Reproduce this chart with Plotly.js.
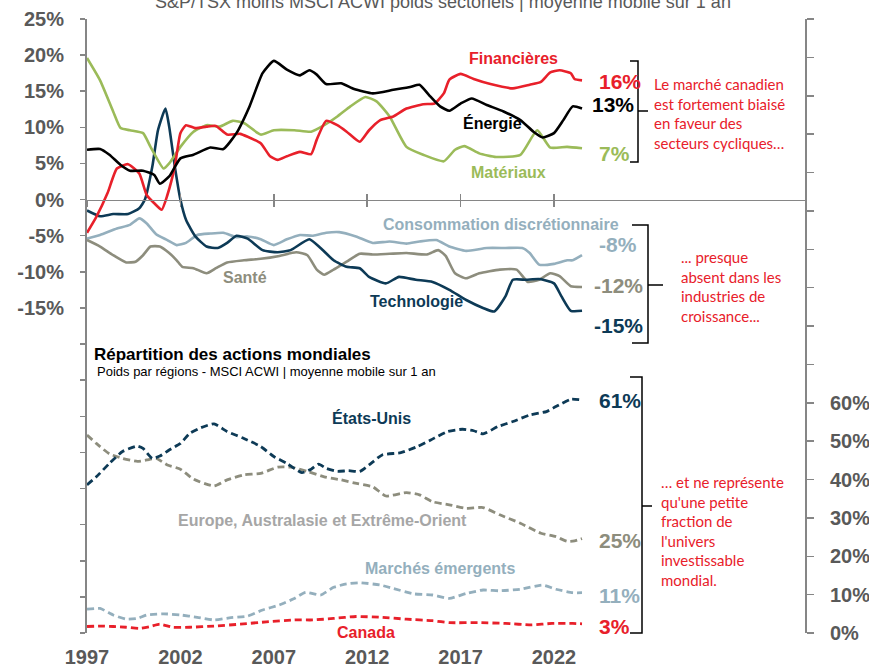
<!DOCTYPE html>
<html><head><meta charset="utf-8">
<script src="https://cdn.plot.ly/plotly-3.0.1.min.js"></script>
<style>html,body{margin:0;padding:0;background:#fff;}#chart{width:869px;height:669px;}</style>
</head><body><div id="chart"></div>
<script>
// ---------- DATA (upper panel: S&P/TSX minus MSCI ACWI sector weights, %) ----------
const finYears = [1997.0,1997.5,1998.1,1998.6,1999.2,1999.8,2000.2,2000.6,2001.0,2001.3,2001.7,2002.0,2002.3,2002.8,2003.4,2003.9,2004.5,2005.2,2005.6,2006.3,2006.8,2007.2,2007.7,2008.4,2009.0,2009.3,2009.8,2010.4,2010.9,2011.6,2012.1,2012.7,2013.4,2014.1,2015.0,2015.6,2016.1,2016.4,2017.0,2017.7,2018.6,2019.8,2020.7,2021.3,2021.8,2022.3,2022.9,2023.1,2023.5];
const finVals  = [-4.6,-2.4,0.9,4.3,4.9,3.6,0.6,-0.5,-1.4,0.6,4.6,9.2,10.3,9.9,10.1,10.2,9.0,9.1,8.7,7.8,6.0,5.5,6.0,6.6,6.3,8.3,10.9,10.3,9.4,8.0,9.6,11.0,11.5,12.6,13.2,13.3,14.7,16.6,17.4,16.7,16.0,15.4,15.9,16.3,17.6,17.9,17.5,16.7,16.5];

const nrgYears = [1997.0,1997.7,1998.2,1998.8,1999.3,2000.0,2000.6,2000.9,2001.4,2002.0,2002.7,2003.6,2004.3,2005.0,2005.7,2006.4,2007.0,2007.7,2008.4,2008.9,2009.3,2009.8,2010.6,2011.3,2012.3,2013.4,2014.3,2014.8,2015.3,2015.9,2016.4,2017.0,2017.6,2018.4,2019.3,2020.2,2020.9,2021.4,2022.0,2022.5,2023.0,2023.5];
const nrgVals  = [6.9,7.0,6.2,4.8,4.0,4.0,3.4,2.2,3.2,5.7,6.2,7.2,7.0,9.2,12.9,17.5,19.2,18.0,17.2,17.9,17.3,16.0,16.1,15.3,14.7,15.2,15.6,15.9,14.5,12.9,12.3,13.3,14.0,13.1,12.2,11.0,9.4,8.6,9.2,11.0,12.9,12.6];

const matYears = [1997.0,1997.7,1998.4,1998.8,1999.3,2000.0,2000.4,2001.1,2001.4,2002.0,2002.7,2003.4,2004.1,2004.8,2005.4,2006.3,2007.0,2008.1,2009.0,2009.7,2010.4,2011.1,2011.9,2012.5,2013.2,2014.1,2015.0,2016.1,2016.7,2017.2,2018.0,2018.9,2020.2,2021.1,2021.8,2022.7,2023.5];
const matVals  = [19.6,16.5,12.2,9.9,9.6,9.2,7.3,4.3,5.0,7.3,9.4,10.3,10.1,10.9,10.6,9.0,9.6,9.6,9.4,10.3,11.5,12.9,14.2,13.6,11.5,7.3,6.2,5.3,6.9,7.4,6.4,5.9,6.2,9.6,7.2,7.3,7.1];

const conYears = [1997.0,1997.7,1998.6,1999.3,1999.8,2000.2,2000.7,2001.3,2001.8,2002.3,2002.9,2003.6,2004.3,2005.0,2005.6,2006.3,2007.0,2007.7,2008.4,2009.1,2009.8,2010.5,2011.4,2012.3,2013.2,2014.1,2014.8,2015.7,2016.4,2017.3,2018.4,2019.4,2020.3,2020.7,2021.2,2022.0,2022.7,2023.0,2023.5];
const conVals  = [-5.4,-4.9,-4.0,-3.5,-2.6,-3.3,-4.8,-5.6,-6.3,-6.0,-4.9,-4.7,-4.6,-5.2,-5.1,-5.5,-6.3,-5.5,-4.9,-5.0,-4.6,-4.5,-5.1,-6.0,-5.8,-6.1,-5.8,-5.6,-6.5,-7.1,-6.7,-6.7,-6.7,-7.4,-9.0,-8.9,-8.4,-8.4,-7.7];

const hltYears = [1997.0,1997.7,1998.4,1999.1,1999.6,2000.0,2000.4,2000.9,2001.4,2001.8,2002.1,2002.7,2003.4,2003.9,2004.5,2005.4,2006.3,2007.3,2008.2,2008.8,2009.3,2009.7,2010.2,2010.9,2011.6,2012.3,2013.2,2014.1,2015.2,2015.8,2016.2,2016.7,2017.3,2018.0,2019.1,2020.0,2020.6,2021.2,2021.8,2022.3,2022.9,2023.5];
const hltVals  = [-5.6,-6.5,-7.7,-8.7,-8.6,-7.7,-6.5,-6.5,-7.4,-8.4,-9.3,-9.5,-10.2,-9.5,-8.7,-8.4,-8.2,-7.8,-7.3,-7.7,-9.7,-10.4,-9.7,-8.6,-7.5,-7.6,-7.5,-7.4,-7.6,-7.0,-7.8,-10.2,-10.9,-10.2,-9.7,-9.7,-11.4,-11.1,-10.2,-10.6,-12.0,-12.1];

const tecYears = [1997.0,1997.7,1998.4,1999.2,1999.8,2000.1,2000.5,2000.8,2001.2,2001.4,2001.7,2002.0,2002.3,2002.8,2003.4,2004.0,2004.5,2005.0,2005.6,2006.4,2007.2,2007.9,2008.9,2009.5,2010.2,2010.9,2011.6,2012.1,2013.0,2013.7,2014.6,2015.5,2016.4,2017.3,2018.2,2018.8,2019.4,2019.8,2020.5,2021.2,2022.0,2022.4,2022.9,2023.5];
const tecVals  = [-1.5,-2.3,-2.0,-2.0,-1.2,0.0,4.6,9.6,12.6,10.1,4.6,0.0,-2.8,-5.1,-6.5,-6.7,-6.0,-5.0,-5.4,-7.0,-7.3,-7.0,-5.5,-6.7,-8.4,-9.3,-9.5,-10.7,-11.6,-10.7,-11.1,-11.4,-12.5,-13.9,-15.0,-15.5,-13.4,-11.1,-11.1,-11.0,-11.6,-13.4,-15.4,-15.4];

// ---------- DATA (lower panel: MSCI ACWI regional weights, %) ----------
const usYears = [1997.0,1997.5,1998.2,1998.9,1999.7,2000.0,2000.5,2000.9,2001.4,2002.0,2002.5,2003.1,2003.8,2004.5,2005.4,2006.3,2007.0,2007.7,2008.5,2009.0,2009.4,2009.8,2010.4,2011.0,2011.6,2012.1,2012.8,2013.8,2014.7,2015.4,2016.3,2017.1,2017.7,2018.2,2019.0,2019.8,2020.7,2021.6,2022.1,2022.9,2023.5];
const usVals  = [38.6,40.7,44.2,47.3,48.7,48.1,45.5,46.1,47.7,49.4,52.0,53.5,54.5,52.5,50.7,48.6,46.0,44.2,41.8,42.7,44.0,42.9,42.1,42.3,42.1,43.8,46.4,47.0,48.6,50.3,52.5,53.1,52.7,51.9,53.8,55.1,56.8,57.7,59.0,60.9,60.7];

const eafeYears = [1997.0,1997.5,1998.2,1998.9,1999.7,2000.2,2000.7,2001.3,2002.0,2002.7,2003.8,2004.5,2005.4,2006.3,2007.2,2007.9,2008.8,2009.7,2010.6,2011.5,2012.3,2013.0,2014.1,2014.8,2015.5,2016.4,2017.3,2018.2,2019.1,2020.2,2021.3,2022.1,2022.7,2023.1,2023.5];
const eafeVals  = [51.6,49.4,46.7,45.5,44.7,45.1,45.5,43.8,42.7,40.1,38.3,39.9,41.2,41.6,43.2,43.2,42.1,40.7,39.9,38.9,38.1,35.7,36.6,36.0,34.2,33.4,32.5,32.7,30.8,28.6,26.0,25.1,23.9,24.0,24.6];

const emYears = [1997.0,1997.7,1998.4,1999.1,1999.7,2000.2,2001.1,2002.0,2002.9,2003.8,2004.7,2005.6,2006.4,2007.3,2008.1,2008.7,2009.5,2010.2,2010.9,2011.6,2012.7,2013.4,2014.5,2015.5,2016.4,2017.3,2018.2,2019.1,2020.2,2021.4,2022.1,2023.0,2023.5];
const emVals  = [6.2,6.4,4.7,3.6,3.8,4.7,5.0,4.7,4.1,3.4,4.0,4.4,6.0,7.3,9.0,10.6,9.9,11.9,12.8,13.1,12.5,11.6,10.2,9.9,9.0,10.3,11.2,11.0,11.4,12.5,11.4,10.5,10.5];

const caYears = [1997.0,1997.7,1998.4,1999.1,1999.8,2000.4,2000.9,2001.6,2002.5,2003.8,2005.2,2006.6,2008.1,2009.1,2010.2,2011.4,2012.7,2014.1,2015.5,2016.4,2018.0,2019.4,2020.8,2021.9,2023.0,2023.5];
const caVals  = [1.7,1.8,1.7,1.5,1.2,1.7,2.3,1.5,1.5,1.8,2.3,2.9,3.4,3.4,3.8,4.3,4.1,3.6,3.2,2.7,2.7,2.5,2.1,2.5,2.5,2.4];

// ---------- Tick labels ----------
const xTickVals = [1997,2002,2007,2012,2017,2022];
const xTickText = ['1997','2002','2007','2012','2017','2022'];
const leftTickVals = [-60,-55,-50,-45,-40,-35,-30,-25,-20,-15,-10,-5,0,5,10,15,20,25];
const leftTickText = ['','','','','','','','','','-15%','-10%','-5%','0%','5%','10%','15%','20%','25%'];
const rightTickVals = [0,10,20,30,40,50,60,70,80,90,100,110,120,130,140,150,160];
const rightTickText = ['0%','10%','20%','30%','40%','50%','60%','','','','','','','','','',''];

// ---------- Styling ----------
const RED='#e8202a', BLACK='#000000', GREEN='#9bbb59', NAVY='#0d3a56', LBLUE='#94afbd', GRAYB='#8d8d7d', AXC='#595959', LINEC='#868686';
const FONT='Liberation Sans, Arial, sans-serif';
const L=87, R=64, T=19, B=36, W=869, H=669;
const PW=W-L-R, PH=H-T-B;
const X = p => (p - L)/PW;
const Y = p => (H - B - p)/PH;

function solid(x,y,c){return {x:x,y:y,type:'scatter',mode:'lines',xaxis:'x2',yaxis:'y',line:{color:c,width:2.6,shape:'spline',smoothing:0.5},hoverinfo:'skip',showlegend:false};}
function dashed(x,y,c){return {x:x,y:y,type:'scatter',mode:'lines',xaxis:'x',yaxis:'y2',line:{color:c,width:2.8,dash:'7px,4px',shape:'spline',smoothing:0.5},hoverinfo:'skip',showlegend:false};}

const traces = [
  solid(conYears,conVals,LBLUE), solid(hltYears,hltVals,GRAYB), solid(tecYears,tecVals,NAVY),
  solid(matYears,matVals,GREEN), solid(finYears,finVals,RED), solid(nrgYears,nrgVals,BLACK),
  dashed(eafeYears,eafeVals,GRAYB), dashed(emYears,emVals,LBLUE), dashed(caYears,caVals,RED), dashed(usYears,usVals,NAVY),
  {x:[],y:[],type:'scatter',mode:'lines',xaxis:'x3',yaxis:'y',hoverinfo:'skip',showlegend:false}
];

const zeroPos = 60/85;
const xr = [1997, 1997 + PW/18.68];

const layout = {
  width:W, height:H, margin:{l:L,r:R,t:T,b:B,pad:0},
  paper_bgcolor:'#fff', plot_bgcolor:'rgba(0,0,0,0)', showlegend:false,
  font:{family:FONT,color:AXC},
  xaxis:{range:xr, tickvals:xTickVals, ticktext:xTickText, showline:false, ticks:'', showgrid:false, zeroline:false,
         tickfont:{size:20,color:AXC,weight:'bold'}, ticklabelstandoff:10},
  xaxis2:{range:xr, overlaying:'x', anchor:'free', position:zeroPos, tickvals:xTickVals, showticklabels:false,
          showline:true, linecolor:LINEC, linewidth:1.5, ticks:'outside', ticklen:6, tickwidth:1.5, tickcolor:LINEC, showgrid:false, zeroline:false},
  xaxis3:{range:xr, overlaying:'x', anchor:'free', position:zeroPos, tickvals:xTickVals, showticklabels:false,
          showline:false, ticks:'inside', ticklen:6, tickwidth:1.5, tickcolor:LINEC, showgrid:false, zeroline:false},
  yaxis:{range:[-60,25], tickvals:leftTickVals, ticktext:leftTickText, showline:true, linecolor:LINEC, linewidth:2,
         ticks:'outside', ticklen:5, tickwidth:1.5, tickcolor:LINEC, showgrid:false, zeroline:false,
         tickfont:{size:20,color:AXC,weight:'bold'}, ticklabelstandoff:12},
  yaxis2:{range:[0,160], overlaying:'y', side:'right', anchor:'x', tickvals:rightTickVals, ticktext:rightTickText,
          showline:true, linecolor:LINEC, linewidth:2, ticks:'outside', ticklen:7, tickwidth:1.5, tickcolor:LINEC,
          showgrid:false, zeroline:false, tickfont:{size:20,color:AXC,weight:'bold'}, ticklabelstandoff:12},
  annotations:[], shapes:[]
};

function ann(text, cx, cy, color, size, opts){
  const a = Object.assign({text:text, xref:'paper', yref:'paper', x:X(cx), y:Y(cy), xanchor:'center', yanchor:'middle',
    showarrow:false, font:{family:FONT,size:size,color:color}}, opts||{});
  layout.annotations.push(a);
}
// Top (cropped) title
ann('S&P/TSX moins MSCI ACWI poids sectoriels | moyenne mobile sur 1 an', 443, 2, AXC, 18);
// Series labels
ann('<b>Financières</b>', 513, 58, RED, 16);
ann('<b>Énergie</b>', 492, 123, BLACK, 16);
ann('<b>Matériaux</b>', 508, 172, GREEN, 16);
ann('<b>Consommation discrétionnaire</b>', 501, 224, LBLUE, 16);
ann('<b>Santé</b>', 245, 277, GRAYB, 16);
ann('<b>Technologie</b>', 416, 301, NAVY, 16);
ann('<b>États-Unis</b>', 371, 418, NAVY, 16);
ann('<b>Europe, Australasie et Extrême-Orient</b>', 322, 520, '#a6a6a6', 16);
ann('<b>Marchés émergents</b>', 440, 568, LBLUE, 16);
ann('<b>Canada</b>', 366, 632, RED, 16);
// End values
const lv = {xanchor:'left'};
ann('<b>16%</b>', 597, 81, RED, 21, lv);
ann('<b>13%</b>', 590, 105, BLACK, 21, lv);
ann('<b>7%</b>', 597, 153, GREEN, 21, lv);
ann('<b>-8%</b>', 597, 244, LBLUE, 21, lv);
ann('<b>-12%</b>', 592, 285, GRAYB, 21, lv);
ann('<b>-15%</b>', 592, 325, NAVY, 21, lv);
ann('<b>61%</b>', 597, 400, NAVY, 21, lv);
ann('<b>25%</b>', 597, 540, GRAYB, 21, lv);
ann('<b>11%</b>', 597, 595, LBLUE, 21, lv);
ann('<b>3%</b>', 597, 626, RED, 21, lv);
// Sub-chart title
ann('<b>Répartition des actions mondiales</b>', 92, 354, BLACK, 17, {xanchor:'left'});
ann('Poids par régions - MSCI ACWI | moyenne mobile sur 1 an', 95, 371, BLACK, 13, {xanchor:'left'});
// Commentary
const CF = 'Lato, Noto Sans, sans-serif';
function note(text, lx, cy){ layout.annotations.push({text:text, xref:'paper', yref:'paper', x:X(lx), y:Y(cy), xanchor:'left', yanchor:'middle', align:'left', showarrow:false, font:{family:CF,size:15,color:RED}}); }
note('Le marché canadien<br>est fortement biaisé<br>en faveur des<br>secteurs cycliques…', 652, 114);
note('... presque<br>absent dans les<br>industries de<br>croissance...', 679, 286);
note('… et ne représente<br>qu\'une petite<br>fraction de<br>l\'univers<br>investissable<br>mondial.', 659, 531);

// Braces
function brace(x0, xv, xt, y0, ym, y1){
  const p = `M${X(x0)},${Y(y0)} L${X(xv)},${Y(y0)} L${X(xv)},${Y(y1)} L${X(x0)},${Y(y1)} M${X(xv)},${Y(ym)} L${X(xt)},${Y(ym)}`;
  layout.shapes.push({type:'path', xref:'paper', yref:'paper', path:p, line:{color:'#000',width:1.5}});
}
brace(630, 638, 648, 61, 111, 162);
brace(632, 648, 663, 225, 285, 343);
brace(630, 642, 652, 377, 506, 633);

Plotly.newPlot('chart', traces, layout, {staticPlot:true, displayModeBar:false});
</script></body></html>
